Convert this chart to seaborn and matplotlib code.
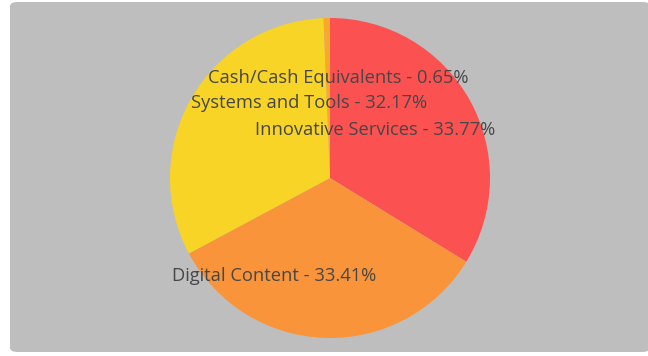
import matplotlib
matplotlib.use("Agg")
import matplotlib.pyplot as plt
from matplotlib.patches import FancyBboxPatch
import seaborn as sns

categories = ["Innovative Services", "Digital Content", "Systems and Tools", "Cash/Cash Equivalents"]
shares = [33.77, 33.41, 32.17, 0.65]
slice_colors = ["#FC5151", "#F9943A", "#F8D426", "#F8A82C"]

# label anchor points (data units, pie radius = 1)
label_x = [0.28, -0.35, -0.13, 0.05]
label_y = [0.30, -0.613, 0.469, 0.625]

sns.set_theme(style="white")
plt.rcParams["font.family"] = ["Open Sans", "DejaVu Sans"]

W, H = 648, 356
fig = plt.figure(figsize=(W / 100, H / 100), dpi=100)
fig.patch.set_facecolor("white")

# rounded grey panel behind the chart
panel = FancyBboxPatch((10 / W, 4 / H), (W - 8) / W, (H - 6) / H,
                       boxstyle="round,pad=0,rounding_size=0.012",
                       transform=fig.transFigure, facecolor="#BEBEBE",
                       edgecolor="none", zorder=-5)
fig.patches.append(panel)

cx, cy, r = 330, 178, 160
ax = fig.add_axes([(cx - r) / W, (cy - r) / H, 2 * r / W, 2 * r / H])
ax.set_facecolor("none")
ax.set_zorder(2)

ax.pie(shares, colors=slice_colors, startangle=90, counterclock=False,
       radius=1, wedgeprops=dict(linewidth=0))
ax.set_xlim(-1, 1)
ax.set_ylim(-1, 1)
ax.axis("off")

for name, val, x, y in zip(categories, shares, label_x, label_y):
    ax.text(x, y, f"{name} - {val:.2f}%", ha="center", va="center",
            fontsize=13.2, color="#474747", clip_on=False)

fig.savefig("out.png", dpi=100)
